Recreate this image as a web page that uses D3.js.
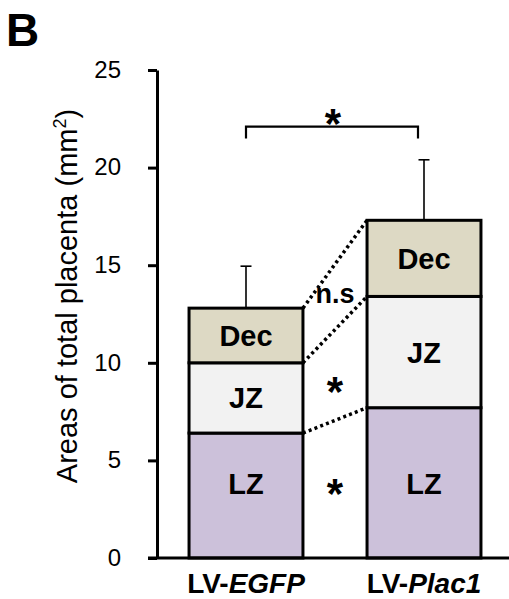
<!DOCTYPE html>
<html>
<head>
<meta charset="utf-8">
<script src="https://cdn.jsdelivr.net/npm/d3@7"></script>
<style>
  html, body { margin: 0; padding: 0; background: #fff; }
  svg { display: block; font-family: "Liberation Sans", Arial, sans-serif; }
</style>
</head>
<body>
<svg id="chart" width="509" height="599"></svg>
<script>
// ---- data ----
const categories = ["LV-EGFP", "LV-Plac1"];
const catPrefix = ["LV-", "LV-"];
const catItalic = ["EGFP", "Plac1"];
const segments = ["LZ", "JZ", "Dec"];
const lzValues = [6.4, 7.7];
const jzValues = [3.6, 5.7];
const decValues = [2.8, 3.9];
const errorValues = [2.15, 3.1];
const yTicks = [0, 5, 10, 15, 20, 25];
const segColors = ["#CCC1DA", "#F2F2F2", "#DDD9C4"];
// significance annotations between bars (label, y value)
const sigLabels = ["*", "*", "n.s"];
const sigValues = [3.82, 9.02, 13.4];
const bracketLabel = "*";
const bracketValue = 22.1;

// ---- layout ----
const svg = d3.select("#chart");
const y = d3.scaleLinear().domain([0, 25]).range([558, 70]);
const x = d3.scaleBand().domain(categories).range([157, 513])
  .paddingInner(0.36).paddingOuter(0.18);
const axisX = 157;

// stacked data
const segValues = [lzValues, jzValues, decValues];
const stacked = categories.map((c, i) => {
  let base = 0;
  return segments.map((s, k) => {
    const v = segValues[k][i];
    const d = { cat: c, seg: s, k, y0: base, y1: base + v };
    base += v;
    return d;
  });
});

// dotted connector lines between cumulative tops
const conn = segments.map((s, k) => ({
  x1: x(categories[0]) + x.bandwidth(), y1: y(stacked[0][k].y1),
  x2: x(categories[1]), y2: y(stacked[1][k].y1)
}));
svg.append("g").selectAll("line").data(conn).join("line")
  .attr("x1", d => d.x1).attr("y1", d => d.y1)
  .attr("x2", d => d.x2).attr("y2", d => d.y2)
  .attr("stroke", "#000").attr("stroke-width", 3.5)
  .attr("stroke-dasharray", "3,3.2");

// error bars
const totals = categories.map((c, i) => stacked[i][2].y1);
const eg = svg.append("g");
categories.forEach((c, i) => {
  const cx = x(c) + x.bandwidth() / 2;
  eg.append("line").attr("x1", cx).attr("x2", cx)
    .attr("y1", y(totals[i])).attr("y2", y(totals[i] + errorValues[i]))
    .attr("stroke", "#000").attr("stroke-width", 1.6);
  eg.append("line").attr("x1", cx - 5.5).attr("x2", cx + 5.5)
    .attr("y1", y(totals[i] + errorValues[i])).attr("y2", y(totals[i] + errorValues[i]))
    .attr("stroke", "#000").attr("stroke-width", 1.6);
});

// bars
const bars = svg.append("g");
stacked.forEach(stack => {
  bars.selectAll(null).data(stack).join("rect")
    .attr("x", d => x(d.cat))
    .attr("width", x.bandwidth())
    .attr("y", d => y(d.y1))
    .attr("height", d => y(d.y0) - y(d.y1))
    .attr("fill", d => segColors[d.k])
    .attr("stroke", "#000").attr("stroke-width", 3);
});

// segment labels
const lblG = svg.append("g");
stacked.forEach(stack => {
  lblG.selectAll(null).data(stack).join("text")
    .attr("x", d => x(d.cat) + x.bandwidth() / 2)
    .attr("y", d => (d.seg === "LZ" ? y(3.8) : (y(d.y0) + y(d.y1)) / 2))
    .attr("dy", "0.36em")
    .attr("text-anchor", "middle")
    .attr("font-weight", "bold").attr("font-size", 29)
    .text(d => d.seg);
});

// y axis
const yAxis = d3.axisLeft(y).tickValues(yTicks).tickSize(9).tickSizeOuter(0).tickPadding(27);
const ag = svg.append("g").attr("transform", `translate(${axisX},0)`).call(yAxis);
ag.select(".domain").attr("stroke", "#000").attr("stroke-width", 3);
ag.selectAll(".tick line").attr("stroke", "#000").attr("stroke-width", 3);
ag.selectAll(".tick text").attr("font-size", 24).attr("fill", "#000")
  .attr("font-family", "Liberation Sans, Arial, sans-serif").attr("dy", "0.3em");

// x axis line
svg.append("line").attr("x1", axisX - 9).attr("x2", 509)
  .attr("y1", y(0)).attr("y2", y(0))
  .attr("stroke", "#000").attr("stroke-width", 3);

// x labels
categories.forEach((c, i) => {
  const t = svg.append("text")
    .attr("x", x(c) + x.bandwidth() / 2).attr("y", 593)
    .attr("text-anchor", "middle").attr("font-weight", "bold").attr("font-size", 28);
  t.append("tspan").text(catPrefix[i]);
  t.append("tspan").attr("font-style", "italic").text(catItalic[i]);
});

// y label
const yl = svg.append("text")
  .attr("transform", "translate(77,296) rotate(-90)")
  .attr("text-anchor", "middle").attr("font-size", 29);
yl.append("tspan").text("Areas of total placenta (mm");
yl.append("tspan").attr("font-size", 18).attr("dy", -11).text("2");
yl.append("tspan").attr("dy", 11).text(")");

// significance between bars
const midX = (x(categories[0]) + x.bandwidth() + x(categories[1])) / 2;
sigLabels.forEach((s, i) => {
  svg.append("text")
    .attr("x", midX).attr("y", y(sigValues[i]))
    .attr("text-anchor", "middle")
    .attr("font-weight", "bold")
    .attr("font-size", s === "*" ? 42 : 27)
    .attr("dy", s === "*" ? "0.58em" : "0.25em")
    .text(s);
});

// bracket
const bx1 = x(categories[0]) + x.bandwidth() / 2;
const bx2 = x(categories[1]) + x.bandwidth() / 2 - 6;
const by = y(bracketValue);
svg.append("path")
  .attr("d", `M${bx1},${by + 12}V${by}H${bx2}V${by + 12}`)
  .attr("fill", "none").attr("stroke", "#000").attr("stroke-width", 2.2);
svg.append("text").attr("x", (bx1 + bx2) / 2 + 1).attr("y", by)
  .attr("text-anchor", "middle").attr("font-weight", "bold").attr("font-size", 42)
  .attr("dy", "0.26em").text(bracketLabel);

// panel letter
svg.append("text").attr("x", 6).attr("y", 46)
  .attr("font-weight", "bold").attr("font-size", 46).text("B");
</script>
</body>
</html>
